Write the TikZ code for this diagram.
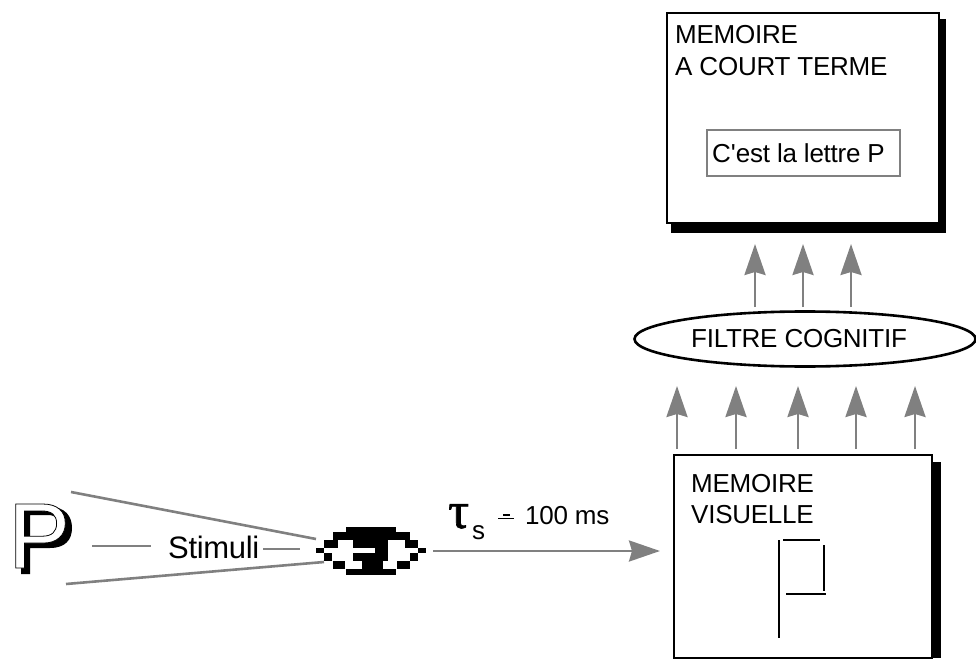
\documentclass[tikz,border=0pt]{standalone}
\usepackage{fontspec}
\setmainfont[LetterSpace=-1]{Liberation Sans}
\newfontfamily\serifgreek[FakeBold=1.2]{Liberation Serif}
\usetikzlibrary{arrows.meta,shapes.geometric}
\definecolor{linegray}{gray}{0.5}
\tikzset{
  x=1pt,y=-1pt,
  lbl/.style={inner sep=0pt,anchor=base west,font=\fontsize{26}{26}\selectfont},
  thick gray/.style={draw=linegray,line width=2.6pt},
  uparrow/.style={draw=linegray,line width=2.6pt,-{Stealth[length=31pt,width=21pt,inset=3pt,fill=linegray]}},
  shadowbox/.style={fill=black,draw=none},
  mainbox/.style={fill=white,draw=black,line width=2.6pt},
  glyphline/.style={draw=black,line width=2.2pt},
  px/.style={fill=black,draw=none},
}
\begin{document}
\begin{tikzpicture}
\useasboundingbox (0,0) rectangle (976,660);
% ---- short-term memory
\fill[shadowbox] (671,19) rectangle (946,233);
\draw[mainbox] (667,13) rectangle (939,223);
\node[lbl] (mct1) at (675,44) {MEMOIRE};
\node[lbl] (mct2) at (675,76) {A COURT TERME};
\draw[thick gray] (707,130) rectangle (900,176);
\node[lbl] (pbox) at (712,163) {C\textquotesingle est la lettre P};
% ---- filter
\node[ellipse,draw=black,line width=2.6pt,fill=white,minimum width=341pt,minimum height=55pt,inner sep=0pt] (filtre) at (805,339) {};
\node[lbl] (filtretxt) at (691,347) {FILTRE COGNITIF};
% ---- visual memory
\fill[shadowbox] (933,462) rectangle (941,658);
\draw[mainbox] (674,455) rectangle (932,658);
\node[lbl] (mv1) at (691,492) {MEMOIRE};
\node[lbl] (mv2) at (691,523) {VISUELLE};
\draw[glyphline] (779,540) -- (779,638);
\draw[glyphline] (783,540) -- (820,540);
\draw[glyphline] (824,545) -- (824,591);
\draw[glyphline] (786,594) -- (826,594);
% ---- arrows
\foreach \n/\xx in {a/755,b/803,c/851}{
  \coordinate (u\n s) at (\xx,307);
  \coordinate (u\n e) at (\xx,244);
  \draw[uparrow] (u\n s) -- (u\n e);
}
\foreach \n/\xx in {a/677,b/736,c/798,d/856,e/915}{
  \coordinate (l\n s) at (\xx,449);
  \coordinate (l\n e) at (\xx,386);
  \draw[uparrow] (l\n s) -- (l\n e);
}
\coordinate (hs) at (433,551);
\coordinate (he) at (660,551);
\draw[uparrow] (hs) -- (he);
% ---- delay label
\node[inner sep=0pt,anchor=base west,font=\fontsize{52}{52}\selectfont\serifgreek] (tau) at (448,528) {τ};
\node[lbl] (tausub) at (472,539) {s};
\node[lbl] (ms) at (525,524) {100 ms};
\draw[black,line width=1.5pt] (503,515) -- (510,515);
\draw[black,line width=1.5pt] (498,518.5) -- (514,518.5);
% ---- stimulus
\fill[black,even odd rule] (21,507) -- (50,507) .. controls (65,507) and (72,516) .. (72,528) .. controls (72,540) and (65,548) .. (50,548) -- (30,548) -- (30,574) -- (21,574) -- cycle
  (30,515) -- (48,515) .. controls (56,515) and (60,520) .. (60,527) .. controls (60,535) and (56,540) .. (48,540) -- (30,540) -- cycle;
\node[inner sep=0pt,anchor=base west,font=\fontsize{93}{93}\selectfont] (pfront) at (8,568) {\special{pdf:code q 1 1 1 rg 0 0 0 RG 2 Tr 0.8 w}P\special{pdf:code Q}};
\node[lbl,font=\fontsize{31}{31}\selectfont] (stim) at (168,558) {Stimuli};
\coordinate (l1a) at (71,492); \coordinate (l1b) at (316,539);
\coordinate (l2a) at (66,584); \coordinate (l2b) at (324,562);
\coordinate (l3a) at (92,546); \coordinate (l3b) at (151,546);
\coordinate (l4a) at (263,549); \coordinate (l4b) at (300,549);
\draw[thick gray] (l1a) -- (l1b);
\draw[thick gray] (l2a) -- (l2b);
\draw[thick gray] (l3a) -- (l3b);
\draw[thick gray] (l4a) -- (l4b);
% ---- eye (pixel figure)
\begin{scope}[shift={(290,480)},x=0.3333pt,y=-0.3333pt]
\fill[px] (168,140) rectangle (318,155);
\fill[px] (128,155) rectangle (360,180);
\fill[px] (103,180) rectangle (145,205);
\fill[px] (190,180) rectangle (295,205);
\fill[px] (345,180) rectangle (383,205);
\fill[px] (78,205) rectangle (103,220);
\fill[px] (255,205) rectangle (295,220);
\fill[px] (383,205) rectangle (408,220);
\fill[px] (103,220) rectangle (125,243);
\fill[px] (190,220) rectangle (295,243);
\fill[px] (360,220) rectangle (383,243);
\fill[px] (128,243) rectangle (165,268);
\fill[px] (215,243) rectangle (278,268);
\fill[px] (320,243) rectangle (360,268);
\fill[px] (168,268) rectangle (318,285);
\end{scope}
\end{tikzpicture}
\end{document}
